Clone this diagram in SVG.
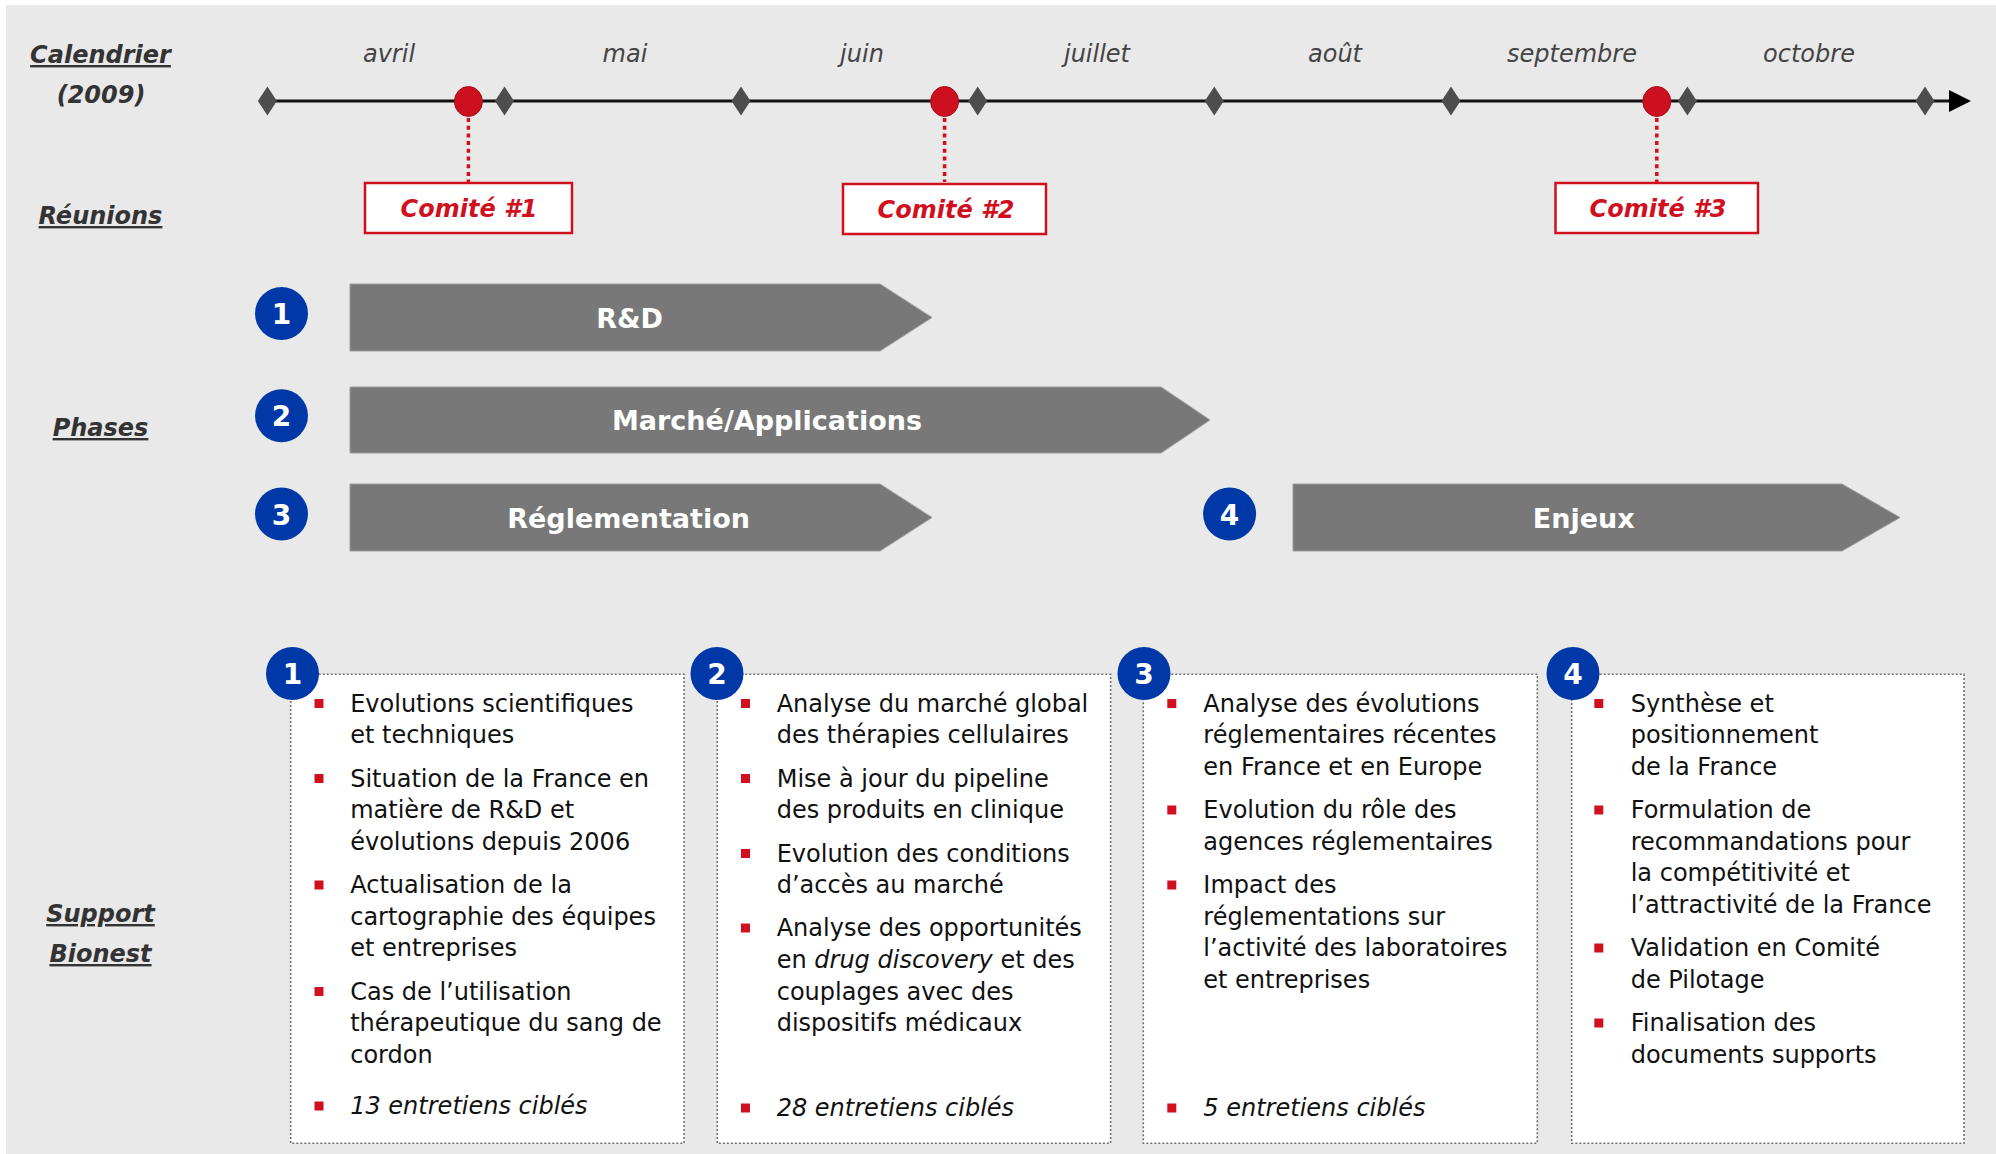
<svg xmlns="http://www.w3.org/2000/svg" xmlns:xlink="http://www.w3.org/1999/xlink" width="1996" height="1154" viewBox="0 0 1996 1154">
<style>
text{font-family:"DejaVu Sans","Liberation Sans",sans-serif;}
.lbl{font-size:24px;font-weight:bold;font-style:italic;fill:#333;text-anchor:middle;}
.u{text-decoration:underline;}
.mon{font-size:24px;font-style:italic;fill:#444;text-anchor:middle;}
.com{font-size:24px;font-weight:bold;font-style:italic;fill:#D0101E;text-anchor:middle;}
.cbox{fill:#fff;stroke:#D0101E;stroke-width:2.5;}
.dot{stroke:#D0101E;stroke-width:3.5;stroke-dasharray:4 3.7;fill:none;}
.num{fill:#0038A8;}
.numt{font-size:28px;font-weight:bold;fill:#fff;text-anchor:middle;}
.arr{fill:#787878;stroke:#9c9c9c;stroke-width:1;}
.arrt{font-size:27px;font-weight:bold;fill:#fff;text-anchor:middle;}
.box{fill:#fff;stroke:#707070;stroke-width:1.6;stroke-dasharray:2 2;}
.bt{font-size:24px;fill:#111;}
.it{font-style:italic;}
.bul{fill:#D0101E;}
</style>
<defs>
<path id="dia" d="M0,-14.5 L9.5,0 L0,14.5 L-9.5,0 Z" fill="#4d4d4d"/>
<rect id="sq" x="0" y="0" width="9" height="9" class="bul"/>
</defs>
<rect x="6" y="5" width="1990" height="1149" fill="#E9E9E9"/>

<g id="labels">
<text class="lbl u" x="100.5" y="63">Calendrier</text>
<text class="lbl" x="101" y="103">(2009)</text>
<text class="lbl u" x="100.5" y="224">Réunions</text>
<text class="lbl u" x="100.5" y="436">Phases</text>
<text class="lbl u" x="100.5" y="922">Support</text>
<text class="lbl u" x="100.5" y="962">Bionest</text>
</g>

<g id="months">
<text class="mon" x="389" y="62">avril</text>
<text class="mon" x="625" y="62">mai</text>
<text class="mon" x="862" y="62">juin</text>
<text class="mon" x="1097" y="62">juillet</text>
<text class="mon" x="1335" y="62">août</text>
<text class="mon" x="1572" y="62">septembre</text>
<text class="mon" x="1809" y="62">octobre</text>
</g>

<g id="timeline">
<line x1="267" y1="101" x2="1952" y2="101" stroke="#111" stroke-width="3"/>
<polygon points="1949,90 1971,101 1949,112" fill="#000"/>
<use xlink:href="#dia" x="267.4" y="101"/>
<use xlink:href="#dia" x="504.5" y="101"/>
<use xlink:href="#dia" x="741" y="101"/>
<use xlink:href="#dia" x="977.7" y="101"/>
<use xlink:href="#dia" x="1214.3" y="101"/>
<use xlink:href="#dia" x="1451" y="101"/>
<use xlink:href="#dia" x="1687.4" y="101"/>
<use xlink:href="#dia" x="1925" y="101"/>
</g>

<g id="connectors">
<line class="dot" x1="468.4" y1="118" x2="468.4" y2="182"/>
<line class="dot" x1="944.6" y1="118" x2="944.6" y2="182"/>
<line class="dot" x1="1656.8" y1="118" x2="1656.8" y2="182"/>
</g>

<g id="milestones">
<ellipse cx="468.4" cy="101.5" rx="14" ry="15" fill="#CC1020" stroke="#A80C18" stroke-width="1"/>
<ellipse cx="944.6" cy="101.5" rx="14" ry="15" fill="#CC1020" stroke="#A80C18" stroke-width="1"/>
<ellipse cx="1656.8" cy="101.5" rx="14" ry="15" fill="#CC1020" stroke="#A80C18" stroke-width="1"/>
</g>

<g id="comite1">
<rect class="cbox" x="365" y="183" width="207" height="50"/>
<text class="com" x="469" y="217">Comité #1</text>
</g>
<g id="comite2">
<rect class="cbox" x="843" y="184" width="203" height="50"/>
<text class="com" x="946" y="217.5">Comité #2</text>
</g>
<g id="comite3">
<rect class="cbox" x="1555.5" y="183" width="202.5" height="50"/>
<text class="com" x="1658" y="217">Comité #3</text>
</g>

<g id="phase1">
<circle class="num" cx="281.5" cy="313.5" r="26.5"/>
<text class="numt" x="281.5" y="324">1</text>
<path class="arr" d="M350,284 H880 L932,317.5 L880,351 H350 Z"/>
<text class="arrt" x="629.5" y="328">R&amp;D</text>
</g>
<g id="phase2">
<circle class="num" cx="281.5" cy="415.7" r="26.5"/>
<text class="numt" x="281.5" y="426">2</text>
<path class="arr" d="M350,387 H1161 L1210,420 L1161,453 H350 Z"/>
<text class="arrt" x="767" y="430">Marché/Applications</text>
</g>
<g id="phase3">
<circle class="num" cx="281.5" cy="514" r="26.5"/>
<text class="numt" x="281.5" y="524.5">3</text>
<path class="arr" d="M350,484 H880 L932,517.5 L880,551 H350 Z"/>
<text class="arrt" x="628.6" y="528">Réglementation</text>
</g>
<g id="phase4">
<circle class="num" cx="1229.6" cy="514" r="26.5"/>
<text class="numt" x="1229.6" y="524.5">4</text>
<path class="arr" d="M1293,484 H1842 L1900,517.5 L1842,551 H1293 Z"/>
<text class="arrt" x="1583.7" y="528">Enjeux</text>
</g>

<g id="support1">
<rect class="box" x="290.7" y="674.3" width="393.3" height="469"/>
<circle class="num" cx="292.5" cy="673.5" r="26.5"/>
<text class="numt" x="292.5" y="684">1</text>
<use xlink:href="#sq" x="314.5" y="699"/>
<use xlink:href="#sq" x="314.5" y="774"/>
<use xlink:href="#sq" x="314.5" y="880.5"/>
<use xlink:href="#sq" x="314.5" y="987"/>
<use xlink:href="#sq" x="314.5" y="1101.5"/>
<text class="bt" x="350.2">
<tspan x="350.2" y="711.7">Evolutions scientifiques</tspan>
<tspan x="350.2" y="743.3">et techniques</tspan>
<tspan x="350.2" y="786.6">Situation de la France en</tspan>
<tspan x="350.2" y="818.2">matière de R&amp;D et</tspan>
<tspan x="350.2" y="849.8">évolutions depuis 2006</tspan>
<tspan x="350.2" y="893.1">Actualisation de la</tspan>
<tspan x="350.2" y="924.7">cartographie des équipes</tspan>
<tspan x="350.2" y="956.3">et entreprises</tspan>
<tspan x="350.2" y="999.6">Cas de l’utilisation</tspan>
<tspan x="350.2" y="1031.2">thérapeutique du sang de</tspan>
<tspan x="350.2" y="1062.8">cordon</tspan>
<tspan class="it" x="350.2" y="1114">13 entretiens ciblés</tspan>
</text>
</g>

<g id="support2">
<rect class="box" x="717.3" y="674.3" width="393.3" height="469"/>
<circle class="num" cx="717" cy="673.5" r="26.5"/>
<text class="numt" x="717" y="684">2</text>
<use xlink:href="#sq" x="741" y="699"/>
<use xlink:href="#sq" x="741" y="774"/>
<use xlink:href="#sq" x="741" y="849"/>
<use xlink:href="#sq" x="741" y="923.5"/>
<use xlink:href="#sq" x="741" y="1103.5"/>
<text class="bt" x="776.7">
<tspan x="776.7" y="711.7">Analyse du marché global</tspan>
<tspan x="776.7" y="743.3">des thérapies cellulaires</tspan>
<tspan x="776.7" y="786.6">Mise à jour du pipeline</tspan>
<tspan x="776.7" y="818.2">des produits en clinique</tspan>
<tspan x="776.7" y="861.5">Evolution des conditions</tspan>
<tspan x="776.7" y="893.1">d’accès au marché</tspan>
<tspan x="776.7" y="936.4">Analyse des opportunités</tspan>
<tspan x="776.7" y="968">en <tspan class="it">drug discovery</tspan> et des</tspan>
<tspan x="776.7" y="999.6">couplages avec des</tspan>
<tspan x="776.7" y="1031.2">dispositifs médicaux</tspan>
<tspan class="it" x="776.7" y="1116">28 entretiens ciblés</tspan>
</text>
</g>

<g id="support3">
<rect class="box" x="1143.3" y="674.3" width="394" height="469"/>
<circle class="num" cx="1144" cy="673.5" r="26.5"/>
<text class="numt" x="1144" y="684">3</text>
<use xlink:href="#sq" x="1167.3" y="699"/>
<use xlink:href="#sq" x="1167.3" y="805.5"/>
<use xlink:href="#sq" x="1167.3" y="880.5"/>
<use xlink:href="#sq" x="1167.3" y="1103.5"/>
<text class="bt" x="1203.3">
<tspan x="1203.3" y="711.7">Analyse des évolutions</tspan>
<tspan x="1203.3" y="743.3">réglementaires récentes</tspan>
<tspan x="1203.3" y="774.9">en France et en Europe</tspan>
<tspan x="1203.3" y="818.2">Evolution du rôle des</tspan>
<tspan x="1203.3" y="849.8">agences réglementaires</tspan>
<tspan x="1203.3" y="893.1">Impact des</tspan>
<tspan x="1203.3" y="924.7">réglementations sur</tspan>
<tspan x="1203.3" y="956.3">l’activité des laboratoires</tspan>
<tspan x="1203.3" y="987.9">et entreprises</tspan>
<tspan class="it" x="1203.3" y="1116">5 entretiens ciblés</tspan>
</text>
</g>

<g id="support4">
<rect class="box" x="1571.7" y="674.3" width="392.3" height="469"/>
<circle class="num" cx="1573" cy="673.5" r="26.5"/>
<text class="numt" x="1573" y="684">4</text>
<use xlink:href="#sq" x="1594.3" y="699"/>
<use xlink:href="#sq" x="1594.3" y="805.5"/>
<use xlink:href="#sq" x="1594.3" y="943.5"/>
<use xlink:href="#sq" x="1594.3" y="1018.5"/>
<text class="bt" x="1630.7">
<tspan x="1630.7" y="711.7">Synthèse et</tspan>
<tspan x="1630.7" y="743.3">positionnement</tspan>
<tspan x="1630.7" y="774.9">de la France</tspan>
<tspan x="1630.7" y="818.2">Formulation de</tspan>
<tspan x="1630.7" y="849.8">recommandations pour</tspan>
<tspan x="1630.7" y="881.4">la compétitivité et</tspan>
<tspan x="1630.7" y="913">l’attractivité de la France</tspan>
<tspan x="1630.7" y="956.3">Validation en Comité</tspan>
<tspan x="1630.7" y="987.9">de Pilotage</tspan>
<tspan x="1630.7" y="1031.2">Finalisation des</tspan>
<tspan x="1630.7" y="1062.8">documents supports</tspan>
</text>
</g>
</svg>
